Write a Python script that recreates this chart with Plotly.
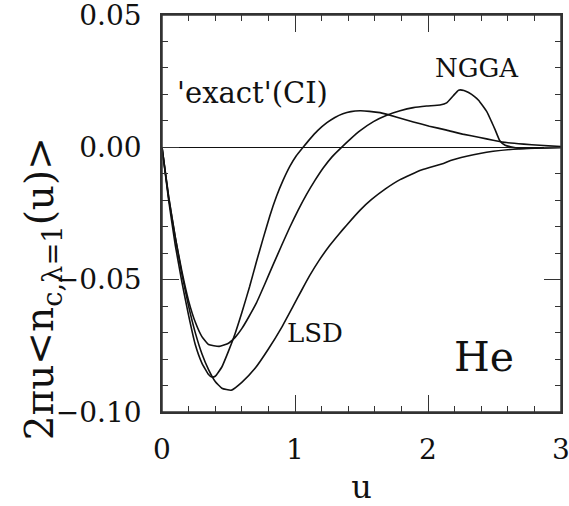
import plotly.graph_objects as go

# ---- data ----
exact_x = [0, 0.05, 0.1, 0.15, 0.2, 0.25, 0.3, 0.35, 0.375, 0.4, 0.45, 0.5, 0.55, 0.6, 0.659, 0.71,
           0.76, 0.81, 0.861, 0.91, 0.961, 1.01, 1.061, 1.11, 1.17, 1.24, 1.3, 1.36, 1.42, 1.49,
           1.56, 1.64, 1.76, 1.89, 2.01, 2.14, 2.26, 2.39, 2.49, 2.59, 2.72, 2.84, 3.0]
exact_y = [0, -0.020, -0.037, -0.051, -0.0635, -0.0745, -0.0815, -0.0858, -0.0868, -0.0865, -0.083,
           -0.077, -0.0703, -0.0625, -0.0526, -0.0432, -0.0345, -0.026, -0.0185, -0.0125, -0.0072,
           -0.0032, 0, 0.0030, 0.0063, 0.0093, 0.0113, 0.0127, 0.0135, 0.0138, 0.0136, 0.0131,
           0.0115, 0.0096, 0.008, 0.0065, 0.005, 0.0037, 0.0027, 0.0018, 0.0012, 0.0008, 0.0003]

ngga_x = [0, 0.05, 0.1, 0.15, 0.2, 0.25, 0.3, 0.35, 0.43, 0.5, 0.55, 0.6, 0.65, 0.71, 0.77, 0.835,
          0.9, 0.961, 1.02, 1.087, 1.15, 1.212, 1.28, 1.35, 1.42, 1.49, 1.59, 1.69, 1.79, 1.89,
          1.99, 2.09, 2.14, 2.19, 2.23, 2.27, 2.305, 2.35, 2.38, 2.41, 2.443, 2.475, 2.506, 2.54,
          2.58, 2.62, 2.69, 2.85, 3.0]
ngga_y = [0, -0.019, -0.034, -0.047, -0.058, -0.066, -0.0715, -0.0745, -0.0752, -0.074, -0.0718,
          -0.0685, -0.0643, -0.0588, -0.052, -0.0444, -0.0370, -0.0302, -0.0241, -0.0178, -0.0125,
          -0.0078, -0.0035, 0, 0.0033, 0.0063, 0.0097, 0.0121, 0.0138, 0.015, 0.0156, 0.016,
          0.0168, 0.0195, 0.0216, 0.0215, 0.0207, 0.0192, 0.0178, 0.0158, 0.0134, 0.0100, 0.0065,
          0.0025, 0.0008, 0.0002, -0.0004, -0.0002, 0]

lsd_x = [0, 0.05, 0.1, 0.15, 0.2, 0.25, 0.3, 0.35, 0.4, 0.45, 0.52, 0.6, 0.7, 0.8, 0.9, 0.986,
         1.05, 1.11, 1.18, 1.262, 1.33, 1.388, 1.488, 1.576, 1.68, 1.79, 1.95, 2.116, 2.17, 2.29,
         2.39, 2.49, 2.64, 2.74, 2.87, 3.0]
lsd_y = [0, -0.0185, -0.034, -0.048, -0.06, -0.070, -0.078, -0.084, -0.0885, -0.091, -0.0918,
         -0.0888, -0.0835, -0.0762, -0.068, -0.0600, -0.0540, -0.0485, -0.0428, -0.0370, -0.0328,
         -0.0294, -0.0238, -0.0197, -0.0157, -0.0122, -0.0086, -0.0061, -0.0050, -0.0034, -0.0023,
         -0.0015, -0.0007, -0.0004, -0.0002, 0]

x_ticks = [0, 1, 2, 3]
y_ticks = [-0.10, -0.05, 0.00, 0.05]
y_ticklabels = ["\u22120.10", "\u22120.05", "0.00", "0.05"]

labels = [("'exact'(CI)", 0.094, 0.0204, 29), ("NGGA", 2.04, 0.0298, 26),
          ("LSD", 0.923, -0.0701, 26), ("He", 2.18, -0.0791, 41)]

FONT = "DejaVu Serif"
INK = "#111111"
FRAME = "#333333"

fig = go.Figure()
for xs, ys in [(exact_x, exact_y), (ngga_x, ngga_y), (lsd_x, lsd_y)]:
    fig.add_trace(go.Scatter(x=xs, y=ys, mode="lines",
                             line=dict(color=INK, width=1.6, shape="spline", smoothing=0.4),
                             showlegend=False, hoverinfo="skip"))

for text, lx, ly, size in labels:
    fig.add_annotation(x=lx, y=ly, xref="x", yref="y", text=text, showarrow=False,
                       xanchor="left", yanchor="middle", font=dict(family=FONT, size=size, color=INK))

fig.add_annotation(x=-0.30, y=0.31, xref="paper", yref="paper",
                   text="2\u03c0u&lt;n<sub>c,\u03bb=1</sub>(u)&gt;", textangle=-90, showarrow=False,
                   xanchor="center", yanchor="middle", font=dict(family=FONT, size=39, color=INK))

# plot frame
fig.add_shape(type="rect", xref="paper", yref="paper", x0=0, x1=1, y0=0, y1=1,
              line=dict(color=FRAME, width=1.5), layer="above")

axis_common = dict(showline=True, linecolor=FRAME, linewidth=1.5, mirror="allticks",
                   ticks="inside", ticklen=17, tickwidth=1.3, tickcolor=FRAME,
                   showgrid=False, zeroline=False, ticklabeloverflow="allow",
                   tickfont=dict(family=FONT, size=28, color=INK))
xminor = dict(dtick=0.2, ticks="inside", ticklen=6, tickwidth=1.2, tickcolor=FRAME, showgrid=False)
yminor = dict(dtick=0.01, ticks="inside", ticklen=6, tickwidth=1.2, tickcolor=FRAME, showgrid=False)

fig.update_layout(
    xaxis=dict(range=[0, 3], tickvals=x_ticks, ticktext=[str(v) for v in x_ticks], minor=xminor,
               ticklabelstandoff=12,
               title=dict(text="u", font=dict(family=FONT, size=32, color=INK), standoff=15),
               **axis_common),
    yaxis=dict(range=[-0.10, 0.05], tickvals=y_ticks, ticktext=y_ticklabels, minor=yminor,
               ticklabelstandoff=13, **{**axis_common, "zeroline": True},
               zerolinecolor=INK, zerolinewidth=1.3),
    width=569, height=506, margin=dict(l=162, r=8, t=15, b=94, autoexpand=False),
    plot_bgcolor="white", paper_bgcolor="white")

fig.write_html("out.html")
